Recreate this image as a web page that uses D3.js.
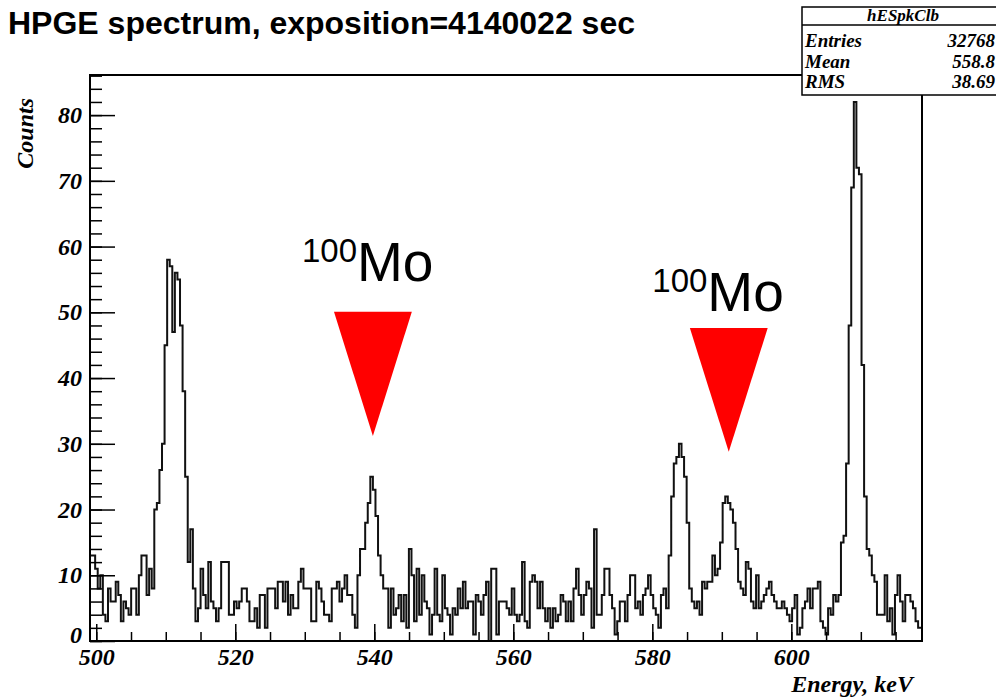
<!DOCTYPE html>
<html>
<head>
<meta charset="UTF-8">
<title>HPGE spectrum</title>
<script src="https://d3js.org/d3.v7.min.js"></script>
<style>
  body { margin: 0; background: #fff; }
  svg { display: block; }
  .root-font { font-family: "Liberation Serif", "DejaVu Serif", serif; font-weight: bold; font-style: italic; }
</style>
</head>
<body>
<svg id="chart" width="996" height="698"></svg>
<script>
// histogram binning (keV)
const binStart = 499.1;
const binWidth = 0.37;

// counts per bin, left to right
const counts499 = [13,13,11,8,10,4,3,8,6,6, 9,7,3,6,5,4,8,8,4,10,
  13,13,7,11,8,20,21,26, 30,45,58,57,47,56,55,48,38,25,
  12,17,8,3,5,11,7,5,12,6, 5,3,5,12,12];
const counts519 = [12,4,4,6,5,6,8,8,6,3, 3,5,2,7,7,2,8,8,8,5,
  9,9,6,9,4,7,5,5,9,11, 8,8,8,3,3,9,8,6,4,4,
  3,8,8,9,6,8,10,7,7,4, 2,10,14,14];
const counts538 = [18,21,25,23,19,13,10,
  8,8,2,8,4,5,7,3,7,2, 14,10,3,11,4,10,6,5,1,4,
  11,4,3,10,5,4,1,5,4,8, 5,9,5,6,6,1,7,6,4,7, 9,0,11,11,1,6,6];
const counts558 = [6,5,4,8,4,3,4,12,3,2, 9,10,9,5,9,5,3,5,2,5,
  3,4,7,6,3,6,3,8,11,7, 4,7,9,8,2,17,4,4,7,11,
  11,7,5,1,3,6,6,3,7,10, 10,5,6,4];
const counts578 = [7,8,10,7,5,4,2,7,8,5, 13,22,27,28,30,28,25,18,8,6,
  5,6,4,9,8,9,9,13,10,11, 15,21,22,21,20,18,14,9,8,7,
  12,11,6,5,10,5,6,7,8,9, 7,6,5,5];
const counts598 = [6,5,4,3,5,7,1,2,5,6, 8,5,8,8,9,3,2,1,5,4,
  7,6,7,15,16,27,48,69,82,72, 71,42,22,14,13,10,9,4,4,4,
  10,3,5,1,7,10,6,3,7,7, 6,5,3,2,2];

const counts = [].concat(counts499, counts519, counts538, counts558, counts578, counts598);

const xTicks = [500, 520, 540, 560, 580, 600];
const yTicks = [0, 10, 20, 30, 40, 50, 60, 70, 80];

// 100Mo annotation: line energy, arrow apex / top (counts), label anchor
const moEnergy = [539.8, 591.0];
const moApex = [31.2, 28.8];
const moTop = [50.1, 47.6];
const moLabelE = [529.6, 580.0];
const moLabelC = [54.8, 50.2];

const statsName = "hESpkClb";
const statsLabels = ["Entries", "Mean", "RMS"];
const statsValues = ["32768", "558.8", "38.69"];

const W = 996, H = 698;
const margin = {left: 90, right: 74, top: 75, bottom: 57};
const svg = d3.select("#chart");

const x = d3.scaleLinear().domain([499.1, 618.8]).range([margin.left, W - margin.right]);
const y = d3.scaleLinear().domain([0, 86.1]).range([H - margin.bottom, margin.top]);

// title
svg.append("text")
    .attr("x", 8).attr("y", 34)
    .attr("font-family", "'Liberation Sans', Arial, sans-serif")
    .attr("font-weight", "bold")
    .attr("font-size", 32)
    .text("HPGE spectrum, exposition=4140022 sec");

// clip for histogram
svg.append("clipPath").attr("id", "frameClip")
  .append("rect")
    .attr("x", margin.left).attr("y", margin.top)
    .attr("width", W - margin.left - margin.right)
    .attr("height", H - margin.top - margin.bottom);

// histogram outline
const pts = counts.map((c, i) => [binStart + i * binWidth, c]);
pts.push([binStart + counts.length * binWidth, counts[counts.length - 1]]);
const line = d3.line()
    .x(d => x(d[0]))
    .y(d => y(d[1]))
    .curve(d3.curveStepAfter);

svg.append("path")
    .attr("d", line(pts))
    .attr("clip-path", "url(#frameClip)")
    .attr("fill", "none")
    .attr("stroke", "#111")
    .attr("stroke-width", 2);

// axes - minor ticks
svg.append("g")
    .attr("transform", `translate(0,${y(0)})`)
    .call(d3.axisBottom(x).tickValues(d3.range(500, 620, 5)).tickSizeInner(-9).tickSizeOuter(0).tickFormat(""))
    .call(g => g.select(".domain").remove())
    .selectAll("line").attr("stroke", "#000").attr("stroke-width", 1.5);

svg.append("g")
    .attr("transform", `translate(${margin.left},0)`)
    .call(d3.axisLeft(y).tickValues(d3.range(0, 87, 2)).tickSizeInner(-12).tickSizeOuter(0).tickFormat(""))
    .call(g => g.select(".domain").remove())
    .selectAll("line").attr("stroke", "#000").attr("stroke-width", 1.5);

// axes - major ticks with labels
const xAxis = svg.append("g")
    .attr("transform", `translate(0,${y(0)})`)
    .call(d3.axisBottom(x).tickValues(xTicks).tickSizeInner(-17).tickSizeOuter(0).tickPadding(7).tickFormat(d3.format("d")));
xAxis.select(".domain").remove();
xAxis.selectAll("line").attr("stroke", "#000").attr("stroke-width", 1.5);
xAxis.selectAll("text").attr("class", "root-font").attr("font-size", 24).attr("fill", "#000");

const yAxis = svg.append("g")
    .attr("transform", `translate(${margin.left},0)`)
    .call(d3.axisLeft(y).tickValues(yTicks).tickSizeInner(-25).tickSizeOuter(0).tickPadding(8).tickFormat(d3.format("d")));
yAxis.select(".domain").remove();
yAxis.selectAll("line").attr("stroke", "#000").attr("stroke-width", 1.5);
yAxis.selectAll("text").attr("class", "root-font").attr("font-size", 24).attr("fill", "#000");
// lift the "0" a little so it clears the "500" below it
yAxis.selectAll("text").filter(d => d === 0).attr("dy", "0.05em");

// frame
svg.append("rect")
    .attr("x", margin.left).attr("y", margin.top)
    .attr("width", W - margin.left - margin.right)
    .attr("height", H - margin.top - margin.bottom)
    .attr("fill", "none").attr("stroke", "#000").attr("stroke-width", 2);

// axis titles
svg.append("text")
    .attr("class", "root-font")
    .attr("transform", `translate(33,${margin.top + 23}) rotate(-90)`)
    .attr("text-anchor", "end")
    .attr("font-size", 24)
    .text("Counts");

svg.append("text")
    .attr("class", "root-font")
    .attr("x", 913).attr("y", 692)
    .attr("text-anchor", "end")
    .attr("font-size", 24)
    .text("Energy, keV");

// 100Mo markers
moEnergy.forEach((e, i) => {
    svg.append("path")
        .attr("d", d3.line()([
            [x(e - 5.6), y(moTop[i])],
            [x(e + 5.6), y(moTop[i])],
            [x(e), y(moApex[i])]
        ]) + "Z")
        .attr("fill", "#ff0000");

    const t = svg.append("text")
        .attr("x", x(moLabelE[i]))
        .attr("y", y(moLabelC[i]))
        .attr("font-family", "'Liberation Sans', Arial, sans-serif")
        .attr("fill", "#000");
    t.append("tspan").attr("font-size", 33).attr("dy", -19).text("100");
    t.append("tspan").attr("font-size", 55).attr("dy", 19).text("Mo");
});

// stats box
const box = svg.append("g").attr("class", "root-font");
box.append("rect")
    .attr("x", 802).attr("y", 7).attr("width", 200).attr("height", 88)
    .attr("fill", "#fff").attr("stroke", "#000").attr("stroke-width", 1.5);
box.append("line")
    .attr("x1", 802).attr("x2", 1000).attr("y1", 25).attr("y2", 25)
    .attr("stroke", "#000").attr("stroke-width", 1.5);
box.append("text")
    .attr("x", 903).attr("y", 21).attr("text-anchor", "middle")
    .attr("font-size", 17)
    .text(statsName);
statsLabels.forEach((lab, i) => {
    box.append("text").attr("x", 805).attr("y", 47 + i * 20.5)
        .attr("font-size", 19).text(lab);
    box.append("text").attr("x", 995).attr("y", 47 + i * 20.5)
        .attr("font-size", 19).attr("text-anchor", "end").text(statsValues[i]);
});
</script>
</body>
</html>
